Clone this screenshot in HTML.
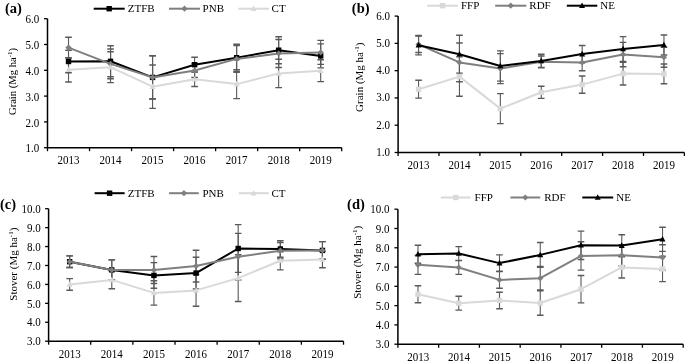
<!DOCTYPE html>
<html><head><meta charset="utf-8"><title>Grain and stover yield</title>
<style>
html,body{margin:0;padding:0;background:#fff;}
body{width:685px;height:364px;overflow:hidden;}
svg{display:block;will-change:transform;}
svg text{font-family:"Liberation Serif", serif;font-size:11px;fill:#000;}
</style></head>
<body>
<svg width="685" height="364" viewBox="0 0 685 364">
<rect width="685" height="364" fill="#fff"/>
<path d="M47.5 18.7V147.7H341.7" fill="none" stroke="#000" stroke-width="1.5"/>
<path d="M44 147.7H47.5" stroke="#000" stroke-width="1.3"/>
<text transform="translate(39.2 152.3) scale(1 1.1)" text-anchor="end">1.0</text>
<path d="M44 121.9H47.5" stroke="#000" stroke-width="1.3"/>
<text transform="translate(39.2 126.5) scale(1 1.1)" text-anchor="end">2.0</text>
<path d="M44 96.1H47.5" stroke="#000" stroke-width="1.3"/>
<text transform="translate(39.2 100.7) scale(1 1.1)" text-anchor="end">3.0</text>
<path d="M44 70.3H47.5" stroke="#000" stroke-width="1.3"/>
<text transform="translate(39.2 74.9) scale(1 1.1)" text-anchor="end">4.0</text>
<path d="M44 44.5H47.5" stroke="#000" stroke-width="1.3"/>
<text transform="translate(39.2 49.1) scale(1 1.1)" text-anchor="end">5.0</text>
<path d="M44 18.7H47.5" stroke="#000" stroke-width="1.3"/>
<text transform="translate(39.2 23.3) scale(1 1.1)" text-anchor="end">6.0</text>
<path d="M47.5 147.7V151.2" stroke="#000" stroke-width="1.3"/>
<path d="M89.53 147.7V151.2" stroke="#000" stroke-width="1.3"/>
<path d="M131.56 147.7V151.2" stroke="#000" stroke-width="1.3"/>
<path d="M173.59 147.7V151.2" stroke="#000" stroke-width="1.3"/>
<path d="M215.61 147.7V151.2" stroke="#000" stroke-width="1.3"/>
<path d="M257.64 147.7V151.2" stroke="#000" stroke-width="1.3"/>
<path d="M299.67 147.7V151.2" stroke="#000" stroke-width="1.3"/>
<path d="M341.7 147.7V151.2" stroke="#000" stroke-width="1.3"/>
<text transform="translate(68.51 164.3) scale(1 1.1)" text-anchor="middle">2013</text>
<text transform="translate(110.54 164.3) scale(1 1.1)" text-anchor="middle">2014</text>
<text transform="translate(152.57 164.3) scale(1 1.1)" text-anchor="middle">2015</text>
<text transform="translate(194.6 164.3) scale(1 1.1)" text-anchor="middle">2016</text>
<text transform="translate(236.63 164.3) scale(1 1.1)" text-anchor="middle">2017</text>
<text transform="translate(278.66 164.3) scale(1 1.1)" text-anchor="middle">2018</text>
<text transform="translate(320.69 164.3) scale(1 1.1)" text-anchor="middle">2019</text>
<path d="M68.51 50.2V72.8" stroke="#595959" stroke-width="1.1" fill="none"/>
<path d="M65.21 50.2H71.81M65.21 72.8H71.81" stroke="#595959" stroke-width="1.4" fill="none"/>
<path d="M110.54 45.8V76.8" stroke="#595959" stroke-width="1.1" fill="none"/>
<path d="M107.24 45.8H113.84M107.24 76.8H113.84" stroke="#595959" stroke-width="1.4" fill="none"/>
<path d="M152.57 55.8V99" stroke="#595959" stroke-width="1.1" fill="none"/>
<path d="M149.27 55.8H155.87M149.27 99H155.87" stroke="#595959" stroke-width="1.4" fill="none"/>
<path d="M194.6 57.3V72.1" stroke="#595959" stroke-width="1.1" fill="none"/>
<path d="M191.3 57.3H197.9M191.3 72.1H197.9" stroke="#595959" stroke-width="1.4" fill="none"/>
<path d="M236.63 44.2V71.2" stroke="#595959" stroke-width="1.1" fill="none"/>
<path d="M233.33 44.2H239.93M233.33 71.2H239.93" stroke="#595959" stroke-width="1.4" fill="none"/>
<path d="M278.66 36.7V63.7" stroke="#595959" stroke-width="1.1" fill="none"/>
<path d="M275.36 36.7H281.96M275.36 63.7H281.96" stroke="#595959" stroke-width="1.4" fill="none"/>
<path d="M320.69 43.9V67.9" stroke="#595959" stroke-width="1.1" fill="none"/>
<path d="M317.39 43.9H323.99M317.39 67.9H323.99" stroke="#595959" stroke-width="1.4" fill="none"/>
<path d="M68.51 37.2V58" stroke="#595959" stroke-width="1.1" fill="none"/>
<path d="M65.21 37.2H71.81M65.21 58H71.81" stroke="#595959" stroke-width="1.4" fill="none"/>
<path d="M110.54 49V78.8" stroke="#595959" stroke-width="1.1" fill="none"/>
<path d="M107.24 49H113.84M107.24 78.8H113.84" stroke="#595959" stroke-width="1.4" fill="none"/>
<path d="M152.57 55.8V99" stroke="#595959" stroke-width="1.1" fill="none"/>
<path d="M149.27 55.8H155.87M149.27 99H155.87" stroke="#595959" stroke-width="1.4" fill="none"/>
<path d="M194.6 63.5V77.5" stroke="#595959" stroke-width="1.1" fill="none"/>
<path d="M191.3 63.5H197.9M191.3 77.5H197.9" stroke="#595959" stroke-width="1.4" fill="none"/>
<path d="M236.63 45.6V72.2" stroke="#595959" stroke-width="1.1" fill="none"/>
<path d="M233.33 45.6H239.93M233.33 72.2H239.93" stroke="#595959" stroke-width="1.4" fill="none"/>
<path d="M278.66 39.5V67.5" stroke="#595959" stroke-width="1.1" fill="none"/>
<path d="M275.36 39.5H281.96M275.36 67.5H281.96" stroke="#595959" stroke-width="1.4" fill="none"/>
<path d="M320.69 40.4V64.4" stroke="#595959" stroke-width="1.1" fill="none"/>
<path d="M317.39 40.4H323.99M317.39 64.4H323.99" stroke="#595959" stroke-width="1.4" fill="none"/>
<path d="M68.51 57.6V82" stroke="#595959" stroke-width="1.1" fill="none"/>
<path d="M65.21 57.6H71.81M65.21 82H71.81" stroke="#595959" stroke-width="1.4" fill="none"/>
<path d="M110.54 51.8V82.6" stroke="#595959" stroke-width="1.1" fill="none"/>
<path d="M107.24 51.8H113.84M107.24 82.6H113.84" stroke="#595959" stroke-width="1.4" fill="none"/>
<path d="M152.57 65V108.4" stroke="#595959" stroke-width="1.1" fill="none"/>
<path d="M149.27 65H155.87M149.27 108.4H155.87" stroke="#595959" stroke-width="1.4" fill="none"/>
<path d="M194.6 71.9V86.5" stroke="#595959" stroke-width="1.1" fill="none"/>
<path d="M191.3 71.9H197.9M191.3 86.5H197.9" stroke="#595959" stroke-width="1.4" fill="none"/>
<path d="M236.63 69.6V98.6" stroke="#595959" stroke-width="1.1" fill="none"/>
<path d="M233.33 69.6H239.93M233.33 98.6H239.93" stroke="#595959" stroke-width="1.4" fill="none"/>
<path d="M278.66 59.2V87.6" stroke="#595959" stroke-width="1.1" fill="none"/>
<path d="M275.36 59.2H281.96M275.36 87.6H281.96" stroke="#595959" stroke-width="1.4" fill="none"/>
<path d="M320.69 59.8V81.6" stroke="#595959" stroke-width="1.1" fill="none"/>
<path d="M317.39 59.8H323.99M317.39 81.6H323.99" stroke="#595959" stroke-width="1.4" fill="none"/>
<polyline points="68.51,61.5 110.54,61.3 152.57,77.4 194.6,64.7 236.63,57.7 278.66,50.2 320.69,55.9" fill="none" stroke="#000" stroke-width="2" stroke-linejoin="round"/>
<rect x="65.81" y="58.8" width="5.4" height="5.4" fill="#000"/>
<rect x="107.84" y="58.6" width="5.4" height="5.4" fill="#000"/>
<rect x="149.87" y="74.7" width="5.4" height="5.4" fill="#000"/>
<rect x="191.9" y="62" width="5.4" height="5.4" fill="#000"/>
<rect x="233.93" y="55" width="5.4" height="5.4" fill="#000"/>
<rect x="275.96" y="47.5" width="5.4" height="5.4" fill="#000"/>
<rect x="317.99" y="53.2" width="5.4" height="5.4" fill="#000"/>
<polyline points="68.51,47.6 110.54,63.9 152.57,77.4 194.6,70.5 236.63,58.9 278.66,53.5 320.69,52.4" fill="none" stroke="#7f7f7f" stroke-width="2" stroke-linejoin="round"/>
<path d="M68.51 44.5L71.62 47.6L68.51 50.7L65.41 47.6Z" fill="#7f7f7f"/>
<path d="M110.54 60.8L113.65 63.9L110.54 67L107.44 63.9Z" fill="#7f7f7f"/>
<path d="M152.57 74.3L155.68 77.4L152.57 80.51L149.47 77.4Z" fill="#7f7f7f"/>
<path d="M194.6 67.39L197.7 70.5L194.6 73.61L191.5 70.5Z" fill="#7f7f7f"/>
<path d="M236.63 55.8L239.73 58.9L236.63 62L233.52 58.9Z" fill="#7f7f7f"/>
<path d="M278.66 50.4L281.76 53.5L278.66 56.6L275.55 53.5Z" fill="#7f7f7f"/>
<path d="M320.69 49.3L323.79 52.4L320.69 55.5L317.58 52.4Z" fill="#7f7f7f"/>
<polyline points="68.51,69.8 110.54,67.2 152.57,86.7 194.6,79.2 236.63,84.1 278.66,73.4 320.69,70.7" fill="none" stroke="#d9d9d9" stroke-width="2" stroke-linejoin="round"/>
<path d="M68.51 66.56L71.48 72.09L65.54 72.09Z" fill="#d9d9d9"/>
<path d="M110.54 63.96L113.51 69.5L107.57 69.5Z" fill="#d9d9d9"/>
<path d="M152.57 83.46L155.54 89L149.6 89Z" fill="#d9d9d9"/>
<path d="M194.6 75.96L197.57 81.5L191.63 81.5Z" fill="#d9d9d9"/>
<path d="M236.63 80.86L239.6 86.39L233.66 86.39Z" fill="#d9d9d9"/>
<path d="M278.66 70.16L281.63 75.7L275.69 75.7Z" fill="#d9d9d9"/>
<path d="M320.69 67.46L323.66 73L317.72 73Z" fill="#d9d9d9"/>
<path d="M93.7 8.7H124.7" stroke="#000" stroke-width="2"/>
<rect x="106.5" y="6" width="5.4" height="5.4" fill="#000"/>
<text x="127.7" y="11.9">ZTFB</text>
<path d="M169 8.7H200" stroke="#7f7f7f" stroke-width="2"/>
<path d="M184.5 5.59L187.6 8.7L184.5 11.8L181.4 8.7Z" fill="#7f7f7f"/>
<text x="202.6" y="11.9">PNB</text>
<path d="M238.4 8.7H268.9" stroke="#d9d9d9" stroke-width="2"/>
<path d="M253.65 5.46L256.62 10.99L250.68 10.99Z" fill="#d9d9d9"/>
<text x="271.6" y="11.9">CT</text>
<text x="5" y="12.9" style="font-weight:bold;font-size:14.5px">(a)</text>
<text transform="translate(16 81.5) rotate(-90)" text-anchor="middle" style="font-size:10.6px">Grain (Mg ha<tspan style="font-size:7px" dy="-4">-1</tspan><tspan dy="4">)</tspan></text>
<path d="M398.1 16.1V152.5H684.4" fill="none" stroke="#000" stroke-width="1.5"/>
<path d="M394.6 152.5H398.1" stroke="#000" stroke-width="1.3"/>
<text transform="translate(390.1 156) scale(1 1.1)" text-anchor="end">1.0</text>
<path d="M394.6 125.22H398.1" stroke="#000" stroke-width="1.3"/>
<text transform="translate(390.1 128.72) scale(1 1.1)" text-anchor="end">2.0</text>
<path d="M394.6 97.94H398.1" stroke="#000" stroke-width="1.3"/>
<text transform="translate(390.1 101.44) scale(1 1.1)" text-anchor="end">3.0</text>
<path d="M394.6 70.66H398.1" stroke="#000" stroke-width="1.3"/>
<text transform="translate(390.1 74.16) scale(1 1.1)" text-anchor="end">4.0</text>
<path d="M394.6 43.38H398.1" stroke="#000" stroke-width="1.3"/>
<text transform="translate(390.1 46.88) scale(1 1.1)" text-anchor="end">5.0</text>
<path d="M394.6 16.1H398.1" stroke="#000" stroke-width="1.3"/>
<text transform="translate(390.1 19.6) scale(1 1.1)" text-anchor="end">6.0</text>
<path d="M398.1 152.5V156" stroke="#000" stroke-width="1.3"/>
<path d="M439 152.5V156" stroke="#000" stroke-width="1.3"/>
<path d="M479.9 152.5V156" stroke="#000" stroke-width="1.3"/>
<path d="M520.8 152.5V156" stroke="#000" stroke-width="1.3"/>
<path d="M561.7 152.5V156" stroke="#000" stroke-width="1.3"/>
<path d="M602.6 152.5V156" stroke="#000" stroke-width="1.3"/>
<path d="M643.5 152.5V156" stroke="#000" stroke-width="1.3"/>
<path d="M684.4 152.5V156" stroke="#000" stroke-width="1.3"/>
<text transform="translate(418.55 168.6) scale(1 1.1)" text-anchor="middle">2013</text>
<text transform="translate(459.45 168.6) scale(1 1.1)" text-anchor="middle">2014</text>
<text transform="translate(500.35 168.6) scale(1 1.1)" text-anchor="middle">2015</text>
<text transform="translate(541.25 168.6) scale(1 1.1)" text-anchor="middle">2016</text>
<text transform="translate(582.15 168.6) scale(1 1.1)" text-anchor="middle">2017</text>
<text transform="translate(623.05 168.6) scale(1 1.1)" text-anchor="middle">2018</text>
<text transform="translate(663.95 168.6) scale(1 1.1)" text-anchor="middle">2019</text>
<path d="M418.55 80.3V98.1" stroke="#595959" stroke-width="1.1" fill="none"/>
<path d="M415.25 80.3H421.85M415.25 98.1H421.85" stroke="#595959" stroke-width="1.4" fill="none"/>
<path d="M459.45 56.9V96.3" stroke="#595959" stroke-width="1.1" fill="none"/>
<path d="M456.15 56.9H462.75M456.15 96.3H462.75" stroke="#595959" stroke-width="1.4" fill="none"/>
<path d="M500.35 93.6V123.6" stroke="#595959" stroke-width="1.1" fill="none"/>
<path d="M497.05 93.6H503.65M497.05 123.6H503.65" stroke="#595959" stroke-width="1.4" fill="none"/>
<path d="M541.25 86.25V98.35" stroke="#595959" stroke-width="1.1" fill="none"/>
<path d="M537.95 86.25H544.55M537.95 98.35H544.55" stroke="#595959" stroke-width="1.4" fill="none"/>
<path d="M582.15 76V93.2" stroke="#595959" stroke-width="1.1" fill="none"/>
<path d="M578.85 76H585.45M578.85 93.2H585.45" stroke="#595959" stroke-width="1.4" fill="none"/>
<path d="M623.05 62.2V85" stroke="#595959" stroke-width="1.1" fill="none"/>
<path d="M619.75 62.2H626.35M619.75 85H626.35" stroke="#595959" stroke-width="1.4" fill="none"/>
<path d="M663.95 64V83.8" stroke="#595959" stroke-width="1.1" fill="none"/>
<path d="M660.65 64H667.25M660.65 83.8H667.25" stroke="#595959" stroke-width="1.4" fill="none"/>
<path d="M418.55 36.05V52.55" stroke="#595959" stroke-width="1.1" fill="none"/>
<path d="M415.25 36.05H421.85M415.25 52.55H421.85" stroke="#595959" stroke-width="1.4" fill="none"/>
<path d="M459.45 43V81.8" stroke="#595959" stroke-width="1.1" fill="none"/>
<path d="M456.15 43H462.75M456.15 81.8H462.75" stroke="#595959" stroke-width="1.4" fill="none"/>
<path d="M500.35 53.6V83.6" stroke="#595959" stroke-width="1.1" fill="none"/>
<path d="M497.05 53.6H503.65M497.05 83.6H503.65" stroke="#595959" stroke-width="1.4" fill="none"/>
<path d="M541.25 56V67.4" stroke="#595959" stroke-width="1.1" fill="none"/>
<path d="M537.95 56H544.55M537.95 67.4H544.55" stroke="#595959" stroke-width="1.4" fill="none"/>
<path d="M582.15 54.3V70.7" stroke="#595959" stroke-width="1.1" fill="none"/>
<path d="M578.85 54.3H585.45M578.85 70.7H585.45" stroke="#595959" stroke-width="1.4" fill="none"/>
<path d="M623.05 42.4V66.8" stroke="#595959" stroke-width="1.1" fill="none"/>
<path d="M619.75 42.4H626.35M619.75 66.8H626.35" stroke="#595959" stroke-width="1.4" fill="none"/>
<path d="M663.95 47.2V67.2" stroke="#595959" stroke-width="1.1" fill="none"/>
<path d="M660.65 47.2H667.25M660.65 67.2H667.25" stroke="#595959" stroke-width="1.4" fill="none"/>
<path d="M418.55 35.5V54.9" stroke="#595959" stroke-width="1.1" fill="none"/>
<path d="M415.25 35.5H421.85M415.25 54.9H421.85" stroke="#595959" stroke-width="1.4" fill="none"/>
<path d="M459.45 35.3V73.1" stroke="#595959" stroke-width="1.1" fill="none"/>
<path d="M456.15 35.3H462.75M456.15 73.1H462.75" stroke="#595959" stroke-width="1.4" fill="none"/>
<path d="M500.35 50.9V81.1" stroke="#595959" stroke-width="1.1" fill="none"/>
<path d="M497.05 50.9H503.65M497.05 81.1H503.65" stroke="#595959" stroke-width="1.4" fill="none"/>
<path d="M541.25 54.3V67.7" stroke="#595959" stroke-width="1.1" fill="none"/>
<path d="M537.95 54.3H544.55M537.95 67.7H544.55" stroke="#595959" stroke-width="1.4" fill="none"/>
<path d="M582.15 45.5V62.7" stroke="#595959" stroke-width="1.1" fill="none"/>
<path d="M578.85 45.5H585.45M578.85 62.7H585.45" stroke="#595959" stroke-width="1.4" fill="none"/>
<path d="M623.05 36.6V61.4" stroke="#595959" stroke-width="1.1" fill="none"/>
<path d="M619.75 36.6H626.35M619.75 61.4H626.35" stroke="#595959" stroke-width="1.4" fill="none"/>
<path d="M663.95 35V55" stroke="#595959" stroke-width="1.1" fill="none"/>
<path d="M660.65 35H667.25M660.65 55H667.25" stroke="#595959" stroke-width="1.4" fill="none"/>
<polyline points="418.55,89.2 459.45,76.6 500.35,108.6 541.25,92.3 582.15,84.6 623.05,73.6 663.95,73.9" fill="none" stroke="#d9d9d9" stroke-width="2" stroke-linejoin="round"/>
<rect x="415.85" y="86.5" width="5.4" height="5.4" fill="#d9d9d9"/>
<rect x="456.75" y="73.9" width="5.4" height="5.4" fill="#d9d9d9"/>
<rect x="497.65" y="105.9" width="5.4" height="5.4" fill="#d9d9d9"/>
<rect x="538.55" y="89.6" width="5.4" height="5.4" fill="#d9d9d9"/>
<rect x="579.45" y="81.9" width="5.4" height="5.4" fill="#d9d9d9"/>
<rect x="620.35" y="70.9" width="5.4" height="5.4" fill="#d9d9d9"/>
<rect x="661.25" y="71.2" width="5.4" height="5.4" fill="#d9d9d9"/>
<polyline points="418.55,44.3 459.45,62.4 500.35,68.6 541.25,61.7 582.15,62.5 623.05,54.6 663.95,57.2" fill="none" stroke="#7f7f7f" stroke-width="2" stroke-linejoin="round"/>
<path d="M418.55 41.2L421.66 44.3L418.55 47.4L415.44 44.3Z" fill="#7f7f7f"/>
<path d="M459.45 59.3L462.56 62.4L459.45 65.5L456.34 62.4Z" fill="#7f7f7f"/>
<path d="M500.35 65.49L503.46 68.6L500.35 71.7L497.25 68.6Z" fill="#7f7f7f"/>
<path d="M541.25 58.6L544.36 61.7L541.25 64.81L538.14 61.7Z" fill="#7f7f7f"/>
<path d="M582.15 59.4L585.25 62.5L582.15 65.61L579.04 62.5Z" fill="#7f7f7f"/>
<path d="M623.05 51.5L626.15 54.6L623.05 57.7L619.94 54.6Z" fill="#7f7f7f"/>
<path d="M663.95 54.1L667.06 57.2L663.95 60.3L660.85 57.2Z" fill="#7f7f7f"/>
<polyline points="418.55,45.2 459.45,54.2 500.35,66 541.25,61 582.15,54.1 623.05,49 663.95,45" fill="none" stroke="#000" stroke-width="2" stroke-linejoin="round"/>
<path d="M418.55 41.96L421.52 47.5L415.58 47.5Z" fill="#000"/>
<path d="M459.45 50.96L462.42 56.5L456.48 56.5Z" fill="#000"/>
<path d="M500.35 62.76L503.32 68.3L497.38 68.3Z" fill="#000"/>
<path d="M541.25 57.76L544.22 63.3L538.28 63.3Z" fill="#000"/>
<path d="M582.15 50.86L585.12 56.4L579.18 56.4Z" fill="#000"/>
<path d="M623.05 45.76L626.02 51.3L620.08 51.3Z" fill="#000"/>
<path d="M663.95 41.76L666.92 47.3L660.98 47.3Z" fill="#000"/>
<path d="M427.2 5.7H457.8" stroke="#d9d9d9" stroke-width="2"/>
<rect x="439.8" y="3" width="5.4" height="5.4" fill="#d9d9d9"/>
<text x="460.9" y="8.9">FFP</text>
<path d="M495.2 5.7H526.3" stroke="#7f7f7f" stroke-width="2"/>
<path d="M510.75 2.6L513.86 5.7L510.75 8.8L507.64 5.7Z" fill="#7f7f7f"/>
<text x="529.3" y="8.9">RDF</text>
<path d="M566.8 5.7H597.3" stroke="#000" stroke-width="2"/>
<path d="M582.05 2.46L585.02 8L579.08 8Z" fill="#000"/>
<text x="600.3" y="8.9">NE</text>
<text x="351.8" y="12.9" style="font-weight:bold;font-size:14.5px">(b)</text>
<text transform="translate(362.6 77.2) rotate(-90)" text-anchor="middle" style="font-size:11px">Grain (Mg ha<tspan style="font-size:7px" dy="-4">-1</tspan><tspan dy="4">)</tspan></text>
<path d="M48.6 208.7V341.2H343.5" fill="none" stroke="#000" stroke-width="1.5"/>
<path d="M45.1 341.2H48.6" stroke="#000" stroke-width="1.3"/>
<text transform="translate(40.8 345.4) scale(1 1.1)" text-anchor="end">3.0</text>
<path d="M45.1 322.27H48.6" stroke="#000" stroke-width="1.3"/>
<text transform="translate(40.8 326.47) scale(1 1.1)" text-anchor="end">4.0</text>
<path d="M45.1 303.34H48.6" stroke="#000" stroke-width="1.3"/>
<text transform="translate(40.8 307.54) scale(1 1.1)" text-anchor="end">5.0</text>
<path d="M45.1 284.41H48.6" stroke="#000" stroke-width="1.3"/>
<text transform="translate(40.8 288.61) scale(1 1.1)" text-anchor="end">6.0</text>
<path d="M45.1 265.49H48.6" stroke="#000" stroke-width="1.3"/>
<text transform="translate(40.8 269.69) scale(1 1.1)" text-anchor="end">7.0</text>
<path d="M45.1 246.56H48.6" stroke="#000" stroke-width="1.3"/>
<text transform="translate(40.8 250.76) scale(1 1.1)" text-anchor="end">8.0</text>
<path d="M45.1 227.63H48.6" stroke="#000" stroke-width="1.3"/>
<text transform="translate(40.8 231.83) scale(1 1.1)" text-anchor="end">9.0</text>
<path d="M45.1 208.7H48.6" stroke="#000" stroke-width="1.3"/>
<text transform="translate(40.8 212.9) scale(1 1.1)" text-anchor="end">10.0</text>
<path d="M48.6 341.2V344.7" stroke="#000" stroke-width="1.3"/>
<path d="M90.73 341.2V344.7" stroke="#000" stroke-width="1.3"/>
<path d="M132.86 341.2V344.7" stroke="#000" stroke-width="1.3"/>
<path d="M174.99 341.2V344.7" stroke="#000" stroke-width="1.3"/>
<path d="M217.11 341.2V344.7" stroke="#000" stroke-width="1.3"/>
<path d="M259.24 341.2V344.7" stroke="#000" stroke-width="1.3"/>
<path d="M301.37 341.2V344.7" stroke="#000" stroke-width="1.3"/>
<path d="M343.5 341.2V344.7" stroke="#000" stroke-width="1.3"/>
<text transform="translate(69.66 357.7) scale(1 1.1)" text-anchor="middle">2013</text>
<text transform="translate(111.79 357.7) scale(1 1.1)" text-anchor="middle">2014</text>
<text transform="translate(153.92 357.7) scale(1 1.1)" text-anchor="middle">2015</text>
<text transform="translate(196.05 357.7) scale(1 1.1)" text-anchor="middle">2016</text>
<text transform="translate(238.18 357.7) scale(1 1.1)" text-anchor="middle">2017</text>
<text transform="translate(280.31 357.7) scale(1 1.1)" text-anchor="middle">2018</text>
<text transform="translate(322.44 357.7) scale(1 1.1)" text-anchor="middle">2019</text>
<path d="M69.66 255.85V267.55" stroke="#595959" stroke-width="1.1" fill="none"/>
<path d="M66.36 255.85H72.96M66.36 267.55H72.96" stroke="#595959" stroke-width="1.4" fill="none"/>
<path d="M111.79 259.9V279.9" stroke="#595959" stroke-width="1.1" fill="none"/>
<path d="M108.49 259.9H115.09M108.49 279.9H115.09" stroke="#595959" stroke-width="1.4" fill="none"/>
<path d="M153.92 262.6V288.2" stroke="#595959" stroke-width="1.1" fill="none"/>
<path d="M150.62 262.6H157.22M150.62 288.2H157.22" stroke="#595959" stroke-width="1.4" fill="none"/>
<path d="M196.05 257.2V289" stroke="#595959" stroke-width="1.1" fill="none"/>
<path d="M192.75 257.2H199.35M192.75 289H199.35" stroke="#595959" stroke-width="1.4" fill="none"/>
<path d="M238.18 224.6V272.4" stroke="#595959" stroke-width="1.1" fill="none"/>
<path d="M234.88 224.6H241.48M234.88 272.4H241.48" stroke="#595959" stroke-width="1.4" fill="none"/>
<path d="M280.31 240.8V257.2" stroke="#595959" stroke-width="1.1" fill="none"/>
<path d="M277.01 240.8H283.61M277.01 257.2H283.61" stroke="#595959" stroke-width="1.4" fill="none"/>
<path d="M322.44 241.6V259.2" stroke="#595959" stroke-width="1.1" fill="none"/>
<path d="M319.14 241.6H325.74M319.14 259.2H325.74" stroke="#595959" stroke-width="1.4" fill="none"/>
<path d="M69.66 255.85V267.55" stroke="#595959" stroke-width="1.1" fill="none"/>
<path d="M66.36 255.85H72.96M66.36 267.55H72.96" stroke="#595959" stroke-width="1.4" fill="none"/>
<path d="M111.79 259.9V279.9" stroke="#595959" stroke-width="1.1" fill="none"/>
<path d="M108.49 259.9H115.09M108.49 279.9H115.09" stroke="#595959" stroke-width="1.4" fill="none"/>
<path d="M153.92 256.5V283.5" stroke="#595959" stroke-width="1.1" fill="none"/>
<path d="M150.62 256.5H157.22M150.62 283.5H157.22" stroke="#595959" stroke-width="1.4" fill="none"/>
<path d="M196.05 250.2V282" stroke="#595959" stroke-width="1.1" fill="none"/>
<path d="M192.75 250.2H199.35M192.75 282H199.35" stroke="#595959" stroke-width="1.4" fill="none"/>
<path d="M238.18 233.4V280" stroke="#595959" stroke-width="1.1" fill="none"/>
<path d="M234.88 233.4H241.48M234.88 280H241.48" stroke="#595959" stroke-width="1.4" fill="none"/>
<path d="M280.31 242.5V258.9" stroke="#595959" stroke-width="1.1" fill="none"/>
<path d="M277.01 242.5H283.61M277.01 258.9H283.61" stroke="#595959" stroke-width="1.4" fill="none"/>
<path d="M322.44 241.6V259.2" stroke="#595959" stroke-width="1.1" fill="none"/>
<path d="M319.14 241.6H325.74M319.14 259.2H325.74" stroke="#595959" stroke-width="1.4" fill="none"/>
<path d="M69.66 278.6V290.2" stroke="#595959" stroke-width="1.1" fill="none"/>
<path d="M66.36 278.6H72.96M66.36 290.2H72.96" stroke="#595959" stroke-width="1.4" fill="none"/>
<path d="M111.79 271.1V288.7" stroke="#595959" stroke-width="1.1" fill="none"/>
<path d="M108.49 271.1H115.09M108.49 288.7H115.09" stroke="#595959" stroke-width="1.4" fill="none"/>
<path d="M153.92 280.7V305.1" stroke="#595959" stroke-width="1.1" fill="none"/>
<path d="M150.62 280.7H157.22M150.62 305.1H157.22" stroke="#595959" stroke-width="1.4" fill="none"/>
<path d="M196.05 274.5V306.3" stroke="#595959" stroke-width="1.1" fill="none"/>
<path d="M192.75 274.5H199.35M192.75 306.3H199.35" stroke="#595959" stroke-width="1.4" fill="none"/>
<path d="M238.18 254.7V301.5" stroke="#595959" stroke-width="1.1" fill="none"/>
<path d="M234.88 254.7H241.48M234.88 301.5H241.48" stroke="#595959" stroke-width="1.4" fill="none"/>
<path d="M280.31 251.7V269.9" stroke="#595959" stroke-width="1.1" fill="none"/>
<path d="M277.01 251.7H283.61M277.01 269.9H283.61" stroke="#595959" stroke-width="1.4" fill="none"/>
<path d="M322.44 251.3V267.7" stroke="#595959" stroke-width="1.1" fill="none"/>
<path d="M319.14 251.3H325.74M319.14 267.7H325.74" stroke="#595959" stroke-width="1.4" fill="none"/>
<polyline points="69.66,261.7 111.79,269.9 153.92,275.4 196.05,273.1 238.18,248.5 280.31,249 322.44,250.4" fill="none" stroke="#000" stroke-width="2" stroke-linejoin="round"/>
<rect x="66.96" y="259" width="5.4" height="5.4" fill="#000"/>
<rect x="109.09" y="267.2" width="5.4" height="5.4" fill="#000"/>
<rect x="151.22" y="272.7" width="5.4" height="5.4" fill="#000"/>
<rect x="193.35" y="270.4" width="5.4" height="5.4" fill="#000"/>
<rect x="235.48" y="245.8" width="5.4" height="5.4" fill="#000"/>
<rect x="277.61" y="246.3" width="5.4" height="5.4" fill="#000"/>
<rect x="319.74" y="247.7" width="5.4" height="5.4" fill="#000"/>
<polyline points="69.66,261.7 111.79,269.9 153.92,270 196.05,266.1 238.18,256.7 280.31,250.7 322.44,250.4" fill="none" stroke="#7f7f7f" stroke-width="2" stroke-linejoin="round"/>
<path d="M69.66 258.59L72.77 261.7L69.66 264.81L66.56 261.7Z" fill="#7f7f7f"/>
<path d="M111.79 266.79L114.9 269.9L111.79 273L108.69 269.9Z" fill="#7f7f7f"/>
<path d="M153.92 266.89L157.03 270L153.92 273.11L150.82 270Z" fill="#7f7f7f"/>
<path d="M196.05 263L199.15 266.1L196.05 269.21L192.94 266.1Z" fill="#7f7f7f"/>
<path d="M238.18 253.59L241.28 256.7L238.18 259.81L235.07 256.7Z" fill="#7f7f7f"/>
<path d="M280.31 247.59L283.41 250.7L280.31 253.8L277.2 250.7Z" fill="#7f7f7f"/>
<path d="M322.44 247.3L325.54 250.4L322.44 253.5L319.33 250.4Z" fill="#7f7f7f"/>
<polyline points="69.66,284.4 111.79,279.9 153.92,292.9 196.05,290.4 238.18,278.1 280.31,260.8 322.44,259.5" fill="none" stroke="#d9d9d9" stroke-width="2" stroke-linejoin="round"/>
<path d="M69.66 281.16L72.63 286.69L66.69 286.69Z" fill="#d9d9d9"/>
<path d="M111.79 276.66L114.76 282.19L108.82 282.19Z" fill="#d9d9d9"/>
<path d="M153.92 289.66L156.89 295.19L150.95 295.19Z" fill="#d9d9d9"/>
<path d="M196.05 287.16L199.02 292.69L193.08 292.69Z" fill="#d9d9d9"/>
<path d="M238.18 274.86L241.15 280.4L235.21 280.4Z" fill="#d9d9d9"/>
<path d="M280.31 257.56L283.28 263.1L277.34 263.1Z" fill="#d9d9d9"/>
<path d="M322.44 256.26L325.41 261.8L319.47 261.8Z" fill="#d9d9d9"/>
<path d="M94.6 193.2H124.6" stroke="#000" stroke-width="2"/>
<rect x="106.9" y="190.5" width="5.4" height="5.4" fill="#000"/>
<text x="127.7" y="196.7">ZTFB</text>
<path d="M169.1 193.2H198.8" stroke="#7f7f7f" stroke-width="2"/>
<path d="M183.95 190.09L187.05 193.2L183.95 196.3L180.84 193.2Z" fill="#7f7f7f"/>
<text x="202.5" y="196.7">PNB</text>
<path d="M238.7 193.2H268.7" stroke="#d9d9d9" stroke-width="2"/>
<path d="M253.7 189.96L256.67 195.49L250.73 195.49Z" fill="#d9d9d9"/>
<text x="271.5" y="196.7">CT</text>
<text x="0" y="208.5" style="font-weight:bold;font-size:14.5px">(c)</text>
<text transform="translate(16.7 264.2) rotate(-90)" text-anchor="middle" style="font-size:11px">Stover (Mg ha<tspan style="font-size:7px" dy="-4">-1</tspan><tspan dy="4">)</tspan></text>
<path d="M397.9 209.2V344.2H683.2" fill="none" stroke="#000" stroke-width="1.5"/>
<path d="M394.4 344.2H397.9" stroke="#000" stroke-width="1.3"/>
<text transform="translate(389.4 348.4) scale(1 1.1)" text-anchor="end">3.0</text>
<path d="M394.4 324.91H397.9" stroke="#000" stroke-width="1.3"/>
<text transform="translate(389.4 329.11) scale(1 1.1)" text-anchor="end">4.0</text>
<path d="M394.4 305.63H397.9" stroke="#000" stroke-width="1.3"/>
<text transform="translate(389.4 309.83) scale(1 1.1)" text-anchor="end">5.0</text>
<path d="M394.4 286.34H397.9" stroke="#000" stroke-width="1.3"/>
<text transform="translate(389.4 290.54) scale(1 1.1)" text-anchor="end">6.0</text>
<path d="M394.4 267.06H397.9" stroke="#000" stroke-width="1.3"/>
<text transform="translate(389.4 271.26) scale(1 1.1)" text-anchor="end">7.0</text>
<path d="M394.4 247.77H397.9" stroke="#000" stroke-width="1.3"/>
<text transform="translate(389.4 251.97) scale(1 1.1)" text-anchor="end">8.0</text>
<path d="M394.4 228.49H397.9" stroke="#000" stroke-width="1.3"/>
<text transform="translate(389.4 232.69) scale(1 1.1)" text-anchor="end">9.0</text>
<path d="M394.4 209.2H397.9" stroke="#000" stroke-width="1.3"/>
<text transform="translate(389.4 213.4) scale(1 1.1)" text-anchor="end">10.0</text>
<path d="M397.9 344.2V347.7" stroke="#000" stroke-width="1.3"/>
<path d="M438.66 344.2V347.7" stroke="#000" stroke-width="1.3"/>
<path d="M479.41 344.2V347.7" stroke="#000" stroke-width="1.3"/>
<path d="M520.17 344.2V347.7" stroke="#000" stroke-width="1.3"/>
<path d="M560.93 344.2V347.7" stroke="#000" stroke-width="1.3"/>
<path d="M601.69 344.2V347.7" stroke="#000" stroke-width="1.3"/>
<path d="M642.44 344.2V347.7" stroke="#000" stroke-width="1.3"/>
<path d="M683.2 344.2V347.7" stroke="#000" stroke-width="1.3"/>
<text transform="translate(418.28 360.7) scale(1 1.1)" text-anchor="middle">2013</text>
<text transform="translate(459.04 360.7) scale(1 1.1)" text-anchor="middle">2014</text>
<text transform="translate(499.79 360.7) scale(1 1.1)" text-anchor="middle">2015</text>
<text transform="translate(540.55 360.7) scale(1 1.1)" text-anchor="middle">2016</text>
<text transform="translate(581.31 360.7) scale(1 1.1)" text-anchor="middle">2017</text>
<text transform="translate(622.06 360.7) scale(1 1.1)" text-anchor="middle">2018</text>
<text transform="translate(662.82 360.7) scale(1 1.1)" text-anchor="middle">2019</text>
<path d="M417.98 285.7V302.7" stroke="#595959" stroke-width="1.1" fill="none"/>
<path d="M414.68 285.7H421.28M414.68 302.7H421.28" stroke="#595959" stroke-width="1.4" fill="none"/>
<path d="M458.74 296.3V310.1" stroke="#595959" stroke-width="1.1" fill="none"/>
<path d="M455.44 296.3H462.04M455.44 310.1H462.04" stroke="#595959" stroke-width="1.4" fill="none"/>
<path d="M499.49 292.2V308.8" stroke="#595959" stroke-width="1.1" fill="none"/>
<path d="M496.19 292.2H502.79M496.19 308.8H502.79" stroke="#595959" stroke-width="1.4" fill="none"/>
<path d="M540.25 290.7V315.3" stroke="#595959" stroke-width="1.1" fill="none"/>
<path d="M536.95 290.7H543.55M536.95 315.3H543.55" stroke="#595959" stroke-width="1.4" fill="none"/>
<path d="M581.01 275.5V302.9" stroke="#595959" stroke-width="1.1" fill="none"/>
<path d="M577.71 275.5H584.31M577.71 302.9H584.31" stroke="#595959" stroke-width="1.4" fill="none"/>
<path d="M621.76 256.8V278" stroke="#595959" stroke-width="1.1" fill="none"/>
<path d="M618.46 256.8H625.06M618.46 278H625.06" stroke="#595959" stroke-width="1.4" fill="none"/>
<path d="M662.52 256.2V281.6" stroke="#595959" stroke-width="1.1" fill="none"/>
<path d="M659.22 256.2H665.82M659.22 281.6H665.82" stroke="#595959" stroke-width="1.4" fill="none"/>
<path d="M417.98 255.2V274.4" stroke="#595959" stroke-width="1.1" fill="none"/>
<path d="M414.68 255.2H421.28M414.68 274.4H421.28" stroke="#595959" stroke-width="1.4" fill="none"/>
<path d="M458.74 260.6V274.4" stroke="#595959" stroke-width="1.1" fill="none"/>
<path d="M455.44 260.6H462.04M455.44 274.4H462.04" stroke="#595959" stroke-width="1.4" fill="none"/>
<path d="M499.49 271.6V288.2" stroke="#595959" stroke-width="1.1" fill="none"/>
<path d="M496.19 271.6H502.79M496.19 288.2H502.79" stroke="#595959" stroke-width="1.4" fill="none"/>
<path d="M540.25 266.5V289.9" stroke="#595959" stroke-width="1.1" fill="none"/>
<path d="M536.95 266.5H543.55M536.95 289.9H543.55" stroke="#595959" stroke-width="1.4" fill="none"/>
<path d="M581.01 241.7V270.1" stroke="#595959" stroke-width="1.1" fill="none"/>
<path d="M577.71 241.7H584.31M577.71 270.1H584.31" stroke="#595959" stroke-width="1.4" fill="none"/>
<path d="M621.76 244.6V266" stroke="#595959" stroke-width="1.1" fill="none"/>
<path d="M618.46 244.6H625.06M618.46 266H625.06" stroke="#595959" stroke-width="1.4" fill="none"/>
<path d="M662.52 244.7V270.1" stroke="#595959" stroke-width="1.1" fill="none"/>
<path d="M659.22 244.7H665.82M659.22 270.1H665.82" stroke="#595959" stroke-width="1.4" fill="none"/>
<path d="M417.98 245.3V263.3" stroke="#595959" stroke-width="1.1" fill="none"/>
<path d="M414.68 245.3H421.28M414.68 263.3H421.28" stroke="#595959" stroke-width="1.4" fill="none"/>
<path d="M458.74 246.6V260.4" stroke="#595959" stroke-width="1.1" fill="none"/>
<path d="M455.44 246.6H462.04M455.44 260.4H462.04" stroke="#595959" stroke-width="1.4" fill="none"/>
<path d="M499.49 254.9V271.3" stroke="#595959" stroke-width="1.1" fill="none"/>
<path d="M496.19 254.9H502.79M496.19 271.3H502.79" stroke="#595959" stroke-width="1.4" fill="none"/>
<path d="M540.25 242.5V267.3" stroke="#595959" stroke-width="1.1" fill="none"/>
<path d="M536.95 242.5H543.55M536.95 267.3H543.55" stroke="#595959" stroke-width="1.4" fill="none"/>
<path d="M581.01 231.1V259.5" stroke="#595959" stroke-width="1.1" fill="none"/>
<path d="M577.71 231.1H584.31M577.71 259.5H584.31" stroke="#595959" stroke-width="1.4" fill="none"/>
<path d="M621.76 234.8V256.4" stroke="#595959" stroke-width="1.1" fill="none"/>
<path d="M618.46 234.8H625.06M618.46 256.4H625.06" stroke="#595959" stroke-width="1.4" fill="none"/>
<path d="M662.52 227.2V251.4" stroke="#595959" stroke-width="1.1" fill="none"/>
<path d="M659.22 227.2H665.82M659.22 251.4H665.82" stroke="#595959" stroke-width="1.4" fill="none"/>
<polyline points="417.98,294.2 458.74,303.2 499.49,300.5 540.25,303 581.01,289.2 621.76,267.4 662.52,268.9" fill="none" stroke="#d9d9d9" stroke-width="2" stroke-linejoin="round"/>
<rect x="415.28" y="291.5" width="5.4" height="5.4" fill="#d9d9d9"/>
<rect x="456.04" y="300.5" width="5.4" height="5.4" fill="#d9d9d9"/>
<rect x="496.79" y="297.8" width="5.4" height="5.4" fill="#d9d9d9"/>
<rect x="537.55" y="300.3" width="5.4" height="5.4" fill="#d9d9d9"/>
<rect x="578.31" y="286.5" width="5.4" height="5.4" fill="#d9d9d9"/>
<rect x="619.06" y="264.7" width="5.4" height="5.4" fill="#d9d9d9"/>
<rect x="659.82" y="266.2" width="5.4" height="5.4" fill="#d9d9d9"/>
<polyline points="417.98,264.8 458.74,267.5 499.49,279.9 540.25,278.2 581.01,255.9 621.76,255.3 662.52,257.4" fill="none" stroke="#7f7f7f" stroke-width="2" stroke-linejoin="round"/>
<path d="M417.98 261.69L421.08 264.8L417.98 267.91L414.87 264.8Z" fill="#7f7f7f"/>
<path d="M458.74 264.39L461.84 267.5L458.74 270.61L455.63 267.5Z" fill="#7f7f7f"/>
<path d="M499.49 276.79L502.6 279.9L499.49 283L496.39 279.9Z" fill="#7f7f7f"/>
<path d="M540.25 275.09L543.36 278.2L540.25 281.31L537.14 278.2Z" fill="#7f7f7f"/>
<path d="M581.01 252.8L584.11 255.9L581.01 259L577.9 255.9Z" fill="#7f7f7f"/>
<path d="M621.76 252.2L624.87 255.3L621.76 258.41L618.66 255.3Z" fill="#7f7f7f"/>
<path d="M662.52 254.29L665.63 257.4L662.52 260.5L659.42 257.4Z" fill="#7f7f7f"/>
<polyline points="417.98,254.3 458.74,253.5 499.49,263.1 540.25,254.9 581.01,245.3 621.76,245.6 662.52,239.3" fill="none" stroke="#000" stroke-width="2" stroke-linejoin="round"/>
<path d="M417.98 251.06L420.95 256.6L415.01 256.6Z" fill="#000"/>
<path d="M458.74 250.26L461.71 255.79L455.77 255.79Z" fill="#000"/>
<path d="M499.49 259.86L502.46 265.4L496.52 265.4Z" fill="#000"/>
<path d="M540.25 251.66L543.22 257.19L537.28 257.19Z" fill="#000"/>
<path d="M581.01 242.06L583.98 247.59L578.04 247.59Z" fill="#000"/>
<path d="M621.76 242.36L624.73 247.89L618.79 247.89Z" fill="#000"/>
<path d="M662.52 236.06L665.49 241.59L659.55 241.59Z" fill="#000"/>
<path d="M440.8 197.5H470.6" stroke="#d9d9d9" stroke-width="2"/>
<rect x="453" y="194.8" width="5.4" height="5.4" fill="#d9d9d9"/>
<text x="474.6" y="200.7">FFP</text>
<path d="M510.4 197.5H540.2" stroke="#7f7f7f" stroke-width="2"/>
<path d="M525.3 194.4L528.4 197.5L525.3 200.6L522.19 197.5Z" fill="#7f7f7f"/>
<text x="544.2" y="200.7">RDF</text>
<path d="M582.3 197.5H613.2" stroke="#000" stroke-width="2"/>
<path d="M597.75 194.26L600.72 199.79L594.78 199.79Z" fill="#000"/>
<text x="616.2" y="200.7">NE</text>
<text x="347.1" y="208.5" style="font-weight:bold;font-size:14.5px">(d)</text>
<text transform="translate(361.2 262.3) rotate(-90)" text-anchor="middle" style="font-size:11px">Stover (Mg ha<tspan style="font-size:7px" dy="-4">-1</tspan><tspan dy="4">)</tspan></text>
</svg>
</body></html>
